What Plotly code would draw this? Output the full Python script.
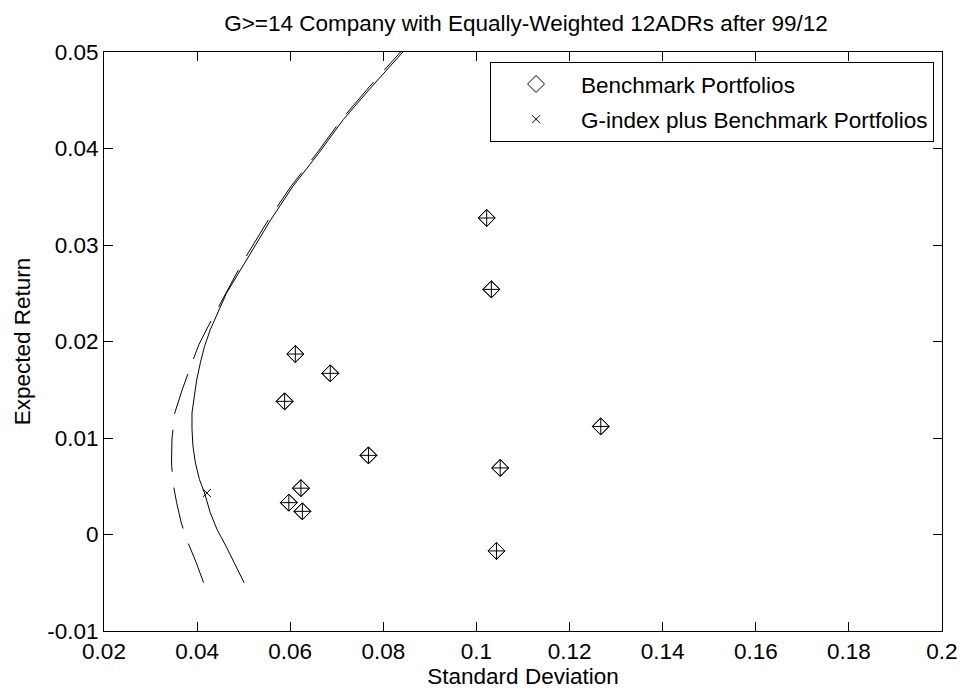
import plotly.graph_objects as go

# Benchmark portfolios (std dev, expected return)
bench_sd = [0.0611, 0.0686, 0.0588, 0.0768, 0.0623, 0.0597, 0.0626, 0.1267, 0.1022, 0.1032, 0.1051, 0.1043]
bench_ret = [0.0187, 0.0167, 0.0138, 0.0082, 0.0048, 0.0033, 0.0024, 0.0112, 0.0328, 0.0254, 0.0069, -0.0017]

# G-index portfolio
gidx_sd = [0.0421]
gidx_ret = [0.0043]

# Frontier of benchmark portfolios (solid)
front1_sd = [0.0501, 0.0480, 0.0462, 0.0443, 0.0428, 0.0416, 0.0405, 0.0396, 0.0391, 0.0389, 0.0389,
             0.0394, 0.0399, 0.0407, 0.0416, 0.0428, 0.0445, 0.0463, 0.0488, 0.0515, 0.0558, 0.0606,
             0.0661, 0.0714, 0.0775, 0.0842]
front1_ret = [-0.0050, -0.0029, -0.0012, 0.0005, 0.0023, 0.0043, 0.0057, 0.0075, 0.0092, 0.0109, 0.0126,
              0.0143, 0.0160, 0.0178, 0.0195, 0.0212, 0.0230, 0.0250, 0.0270, 0.0292, 0.0326, 0.0361,
              0.0395, 0.0430, 0.0464, 0.0500]

# Frontier of G-index plus benchmark portfolios (dashed)
front2_sd = [0.0414, 0.0398, 0.0380, 0.0366, 0.0356, 0.0348, 0.0345, 0.0346, 0.0352, 0.0368, 0.0389,
             0.0404, 0.0423, 0.0442, 0.0461, 0.0484, 0.0510, 0.0553, 0.0602, 0.0657, 0.0710, 0.0770, 0.0837]
front2_ret = [-0.0050, -0.0029, -0.0008, 0.0012, 0.0033, 0.0054, 0.0075, 0.0099, 0.0126, 0.0150, 0.0178,
              0.0197, 0.0215, 0.0232, 0.0250, 0.0270, 0.0292, 0.0326, 0.0361, 0.0395, 0.0430, 0.0464, 0.0500]

x_ticks = [0.02, 0.04, 0.06, 0.08, 0.1, 0.12, 0.14, 0.16, 0.18, 0.2]
x_labels = ["0.02", "0.04", "0.06", "0.08", "0.1", "0.12", "0.14", "0.16", "0.18", "0.2"]
y_ticks = [-0.01, 0, 0.01, 0.02, 0.03, 0.04, 0.05]
y_labels = ["-0.01", "0", "0.01", "0.02", "0.03", "0.04", "0.05"]

FONT = "Liberation Sans, Arial, sans-serif"
FS = 22.5

fig = go.Figure()
fig.add_trace(go.Scatter(x=front1_sd, y=front1_ret, mode="lines",
                         line=dict(color="black", width=1), showlegend=False, hoverinfo="skip"))
fig.add_trace(go.Scatter(x=front2_sd, y=front2_ret, mode="lines",
                         line=dict(color="black", width=1, dash="42px,16px"), showlegend=False, hoverinfo="skip"))
fig.add_trace(go.Scatter(x=bench_sd, y=bench_ret, mode="markers",
                         marker=dict(symbol="diamond-cross-open", size=13, color="black", line=dict(width=1)),
                         showlegend=False))
fig.add_trace(go.Scatter(x=bench_sd, y=bench_ret, mode="markers", name="Benchmark Portfolios",
                         legendgroup="a",
                         marker=dict(symbol="diamond-open", size=13, color="black", line=dict(width=1))))
fig.add_trace(go.Scatter(x=gidx_sd, y=gidx_ret, mode="markers", name="G-index plus Benchmark Portfolios",
                         legendgroup="b",
                         marker=dict(symbol="x-thin-open", size=8, color="black", line=dict(width=1))))

fig.update_layout(
    width=970, height=697,
    margin=dict(l=104, r=22, t=52, b=65),
    paper_bgcolor="white", plot_bgcolor="white",
    font=dict(family=FONT, size=FS, color="black"),
    title=dict(text="G>=14 Company with Equally-Weighted 12ADRs after 99/12",
               x=(104 + 948) / 2 / 970, xanchor="center", y=1 - 23 / 697, yanchor="middle",
               font=dict(size=FS)),
    legend=dict(x=0.9905, y=0.983, xanchor="right", yanchor="top",
                bordercolor="black", borderwidth=1, bgcolor="white",
                font=dict(size=FS), itemwidth=80, tracegroupgap=3),
)
fig.update_xaxes(range=[0.02, 0.2], tickvals=x_ticks, ticktext=x_labels,
                 showline=True, linecolor="black", linewidth=1, mirror="ticks",
                 ticks="inside", ticklen=9, tickcolor="black", showgrid=False, zeroline=False,
                 tickfont=dict(size=FS),
                 title=dict(text="Standard Deviation", standoff=5, font=dict(size=FS)))
fig.update_yaxes(range=[-0.01, 0.05], tickvals=y_ticks, ticktext=y_labels,
                 showline=True, linecolor="black", linewidth=1, mirror="ticks",
                 ticks="inside", ticklen=9, tickcolor="black", showgrid=False, zeroline=False,
                 tickfont=dict(size=FS),
                 title=dict(text="Expected Return", standoff=10, font=dict(size=FS)))

fig.write_html("out.html")
